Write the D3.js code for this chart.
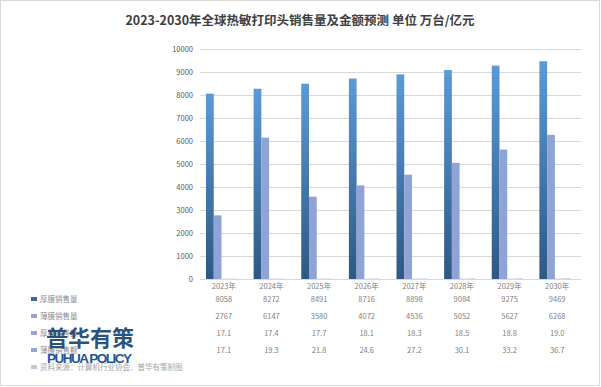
<!DOCTYPE html>
<html>
<head>
<meta charset="utf-8">
<script src="https://cdn.jsdelivr.net/npm/d3@7.9.0/dist/d3.min.js"></script>
<style>
  html, body { margin: 0; padding: 0; background: #fff; }
  svg { display: block; font-family: "Noto Sans CJK SC", "Noto Sans", sans-serif; }
</style>
</head>
<body>
<svg id="chart" width="601" height="387"></svg>
<script>
const years = ['2023年', '2024年', '2025年', '2026年', '2027年', '2028年', '2029年', '2030年'];
const thickVol = [8058, 8272, 8491, 8716, 8898, 9084, 9275, 9469];
const thinVol = [2767, 6147, 3580, 4072, 4536, 5052, 5627, 6268];
const thickAmt = [17.1, 17.4, 17.7, 18.1, 18.3, 18.5, 18.8, 19.0];
const thinAmt = [17.1, 19.3, 21.8, 24.6, 27.2, 30.1, 33.2, 36.7];
const seriesNames = ['厚膜销售量', '薄膜销售量', '厚膜销售额', '薄膜销售额'];
const yTicks = [0, 1000, 2000, 3000, 4000, 5000, 6000, 7000, 8000, 9000, 10000];

const series = [thickVol, thinVol, thickAmt, thinAmt];
const tableFmt = [d => d, d => d, d => d.toFixed(1), d => d.toFixed(1)];

const svg = d3.select('#chart');
const W = 601, H = 387;
const plot = { left: 200, right: 581, top: 49, bottom: 279 };

// frame
svg.append('rect')
    .attr('x', 0.5).attr('y', 0.5)
    .attr('width', W - 2).attr('height', H - 2)
    .attr('fill', '#fff')
    .attr('stroke', '#d9d9d9');

// gradient for the thick series
const defs = svg.append('defs');
const grad = defs.append('linearGradient')
    .attr('id', 'gThick')
    .attr('x1', 0).attr('y1', 0).attr('x2', 0).attr('y2', 1);
grad.append('stop').attr('offset', '0%').attr('stop-color', '#5b9ad8');
grad.append('stop').attr('offset', '100%').attr('stop-color', '#2e5882');

svg.append('text')
    .attr('x', 300).attr('y', 25)
    .attr('text-anchor', 'middle')
    .attr('font-size', 12.5)
    .attr('font-weight', 'bold')
    .attr('fill', '#404040')
    .text('2023-2030年全球热敏打印头销售量及金额预测 单位 万台/亿元');

const x = d3.scaleBand().domain(years).range([plot.left, plot.right]);
const y = d3.scaleLinear().domain([0, 10000]).range([plot.bottom, plot.top]);
// four bar slots per year, the group sits left of the band centre
const xs = d3.scaleBand().domain(d3.range(4)).range([6, 37]);

// grid lines
svg.append('g')
    .selectAll('line')
    .data(yTicks)
    .join('line')
    .attr('x1', plot.left).attr('x2', plot.right)
    .attr('y1', d => Math.round(y(d)) + 0.5).attr('y2', d => Math.round(y(d)) + 0.5)
    .attr('stroke', '#d9d9d9');

// y labels
svg.append('g')
    .selectAll('text')
    .data(yTicks)
    .join('text')
    .attr('x', 193).attr('y', d => y(d) + 3)
    .attr('text-anchor', 'end')
    .attr('font-size', 7.5)
    .attr('fill', '#595959')
    .text(d => d);

// bars
const fills = ['url(#gThick)', '#8fa3d6', '#c9d0e3', '#c9d0e3'];
series.forEach((vals, si) => {
    svg.append('g')
        .selectAll('rect')
        .data(vals)
        .join('rect')
        .attr('x', (d, i) => x(years[i]) + xs(si))
        .attr('y', d => y(d))
        .attr('width', xs.bandwidth())
        .attr('height', d => y(0) - y(d))
        .attr('fill', fills[si]);
});

// data table
const rowY = [302, 319, 336, 353];
svg.append('g')
    .selectAll('text')
    .data(years)
    .join('text')
    .attr('x', d => x(d) + x.bandwidth() / 2)
    .attr('y', 289)
    .attr('text-anchor', 'middle')
    .attr('font-size', 7.5)
    .attr('fill', '#7f7f7f')
    .text(d => d);

const markColors = ['#3a6aa0', '#98a5c8', '#98a5c8', '#98a5c8'];
series.forEach((vals, si) => {
    const row = svg.append('g');
    row.append('rect')
        .attr('x', 31).attr('y', rowY[si] - 5)
        .attr('width', 6).attr('height', 4)
        .attr('fill', markColors[si]);
    row.append('text')
        .attr('x', 40).attr('y', rowY[si])
        .attr('font-size', 7.5)
        .attr('fill', '#8c8c8c')
        .text(seriesNames[si]);
    row.selectAll('text.v')
        .data(vals)
        .join('text')
        .attr('class', 'v')
        .attr('x', (d, i) => x(years[i]) + x.bandwidth() / 2)
        .attr('y', rowY[si])
        .attr('text-anchor', 'middle')
        .attr('font-size', 7.5)
        .attr('fill', '#7f7f7f')
        .text(tableFmt[si]);
});

// source line
svg.append('rect')
    .attr('x', 31).attr('y', 365)
    .attr('width', 6).attr('height', 4)
    .attr('fill', '#c3c9dc');
svg.append('text')
    .attr('x', 40).attr('y', 370)
    .attr('font-size', 7.5)
    .attr('fill', '#a6a6a6')
    .text('资料来源：计算机行业协会、普华有策制图');

// watermark logo (sits over the row labels, as in the source image)
svg.append('text')
    .attr('x', 46).attr('y', 346)
    .attr('font-size', 22)
    .attr('font-weight', 'bold')
    .attr('fill', '#1d4874')
    .attr('fill-opacity', 0.95)
    .text('普华有策');
svg.append('text')
    .attr('x', 47).attr('y', 363)
    .attr('font-size', 13.5)
    .attr('font-weight', 'bold')
    .attr('font-family', '"Liberation Sans", Arial, sans-serif')
    .attr('fill', '#1f5597')
    .attr('textLength', 85)
    .text('PUHUA POLICY');
</script>
</body>
</html>
